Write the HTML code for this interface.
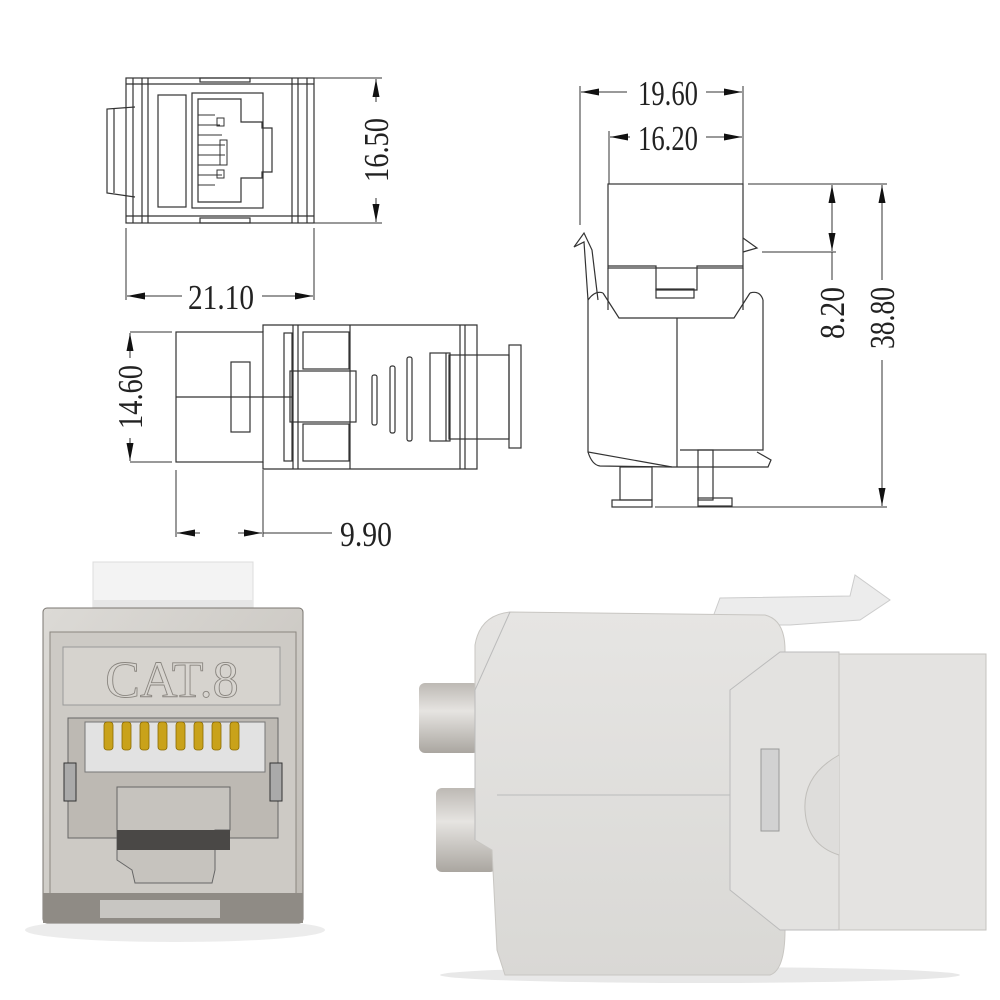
<!DOCTYPE html>
<html><head><meta charset="utf-8"><style>
html,body{margin:0;padding:0;background:#fff;}
svg{display:block;}
text{font-family:"Liberation Serif",serif;fill:#222;}
</style></head><body>
<svg width="1000" height="1000" viewBox="0 0 1000 1000" xmlns="http://www.w3.org/2000/svg">
<defs>
<marker id="ar" viewBox="0 0 10 10" refX="10" refY="5" markerWidth="18" markerHeight="7" markerUnits="userSpaceOnUse" orient="auto-start-reverse" preserveAspectRatio="none"><path d="M0,0 L10,5 L0,10 z" fill="#111"/></marker>
<linearGradient id="metal" x1="0" y1="0" x2="1" y2="1"><stop offset="0" stop-color="#dcdad6"/><stop offset="0.5" stop-color="#cfccc7"/><stop offset="1" stop-color="#bdb9b3"/></linearGradient>
<linearGradient id="side" x1="0" y1="0" x2="0" y2="1"><stop offset="0" stop-color="#e6e5e3"/><stop offset="1" stop-color="#d9d8d5"/></linearGradient>
<linearGradient id="cyl" x1="0" y1="0" x2="0" y2="1"><stop offset="0" stop-color="#bdb9b4"/><stop offset="0.4" stop-color="#e6e4e1"/><stop offset="1" stop-color="#aaa6a0"/></linearGradient>
</defs>
<g fill="none" stroke="#333" stroke-width="1.2">
<!-- TOP-LEFT FRONT VIEW -->
<rect x="126" y="78" width="188" height="145"/>
<line x1="133" y1="78" x2="133" y2="223"/><line x1="142" y1="78" x2="142" y2="223"/><line x1="148" y1="78" x2="148" y2="223"/>
<line x1="292" y1="78" x2="292" y2="223"/><line x1="298" y1="78" x2="298" y2="223"/><line x1="307" y1="78" x2="307" y2="223"/>
<line x1="126" y1="84" x2="314" y2="84"/><line x1="126" y1="216" x2="314" y2="216"/>
<rect x="200" y="78" width="50" height="4"/><rect x="200" y="218" width="50" height="5"/>
<path d="M135,107 L107,109 L107,193 L135,197"/><line x1="114" y1="109" x2="114" y2="193"/>
<rect x="158" y="95" width="28" height="112"/>
<rect x="192" y="93" width="71" height="115"/>
<path d="M198,99 L241,99 L241,122 L262,122 L262,128 L272,128 L272,172 L262,172 L262,178 L241,178 L241,202 L198,202 Z"/>
<g stroke-width="1"><line x1="198" y1="115" x2="215" y2="115"/><line x1="198" y1="125" x2="220" y2="125"/><line x1="198" y1="135" x2="222" y2="135"/><line x1="198" y1="145" x2="225" y2="145"/><line x1="198" y1="155" x2="225" y2="155"/><line x1="198" y1="165" x2="222" y2="165"/><line x1="198" y1="175" x2="222" y2="175"/><line x1="198" y1="185" x2="215" y2="185"/><rect x="217" y="118" width="7" height="8"/><rect x="220" y="140" width="7" height="25"/><rect x="217" y="170" width="7" height="8"/></g>
<!-- dims -->
<line x1="314" y1="78" x2="382" y2="78" stroke-width="1"/><line x1="314" y1="223" x2="382" y2="223" stroke-width="1"/>
<line x1="376" y1="102" x2="376" y2="79" marker-end="url(#ar)" stroke-width="1"/><line x1="376" y1="198" x2="376" y2="222" marker-end="url(#ar)" stroke-width="1"/>
<line x1="126" y1="228" x2="126" y2="300" stroke-width="1"/><line x1="314" y1="228" x2="314" y2="300" stroke-width="1"/>
<line x1="182" y1="296" x2="127" y2="296" marker-end="url(#ar)" stroke-width="1"/><line x1="262" y1="296" x2="313" y2="296" marker-end="url(#ar)" stroke-width="1"/>
<!-- SIDE VIEW -->
<rect x="176" y="332" width="87" height="130"/>
<line x1="176" y1="397" x2="293" y2="397"/>
<rect x="231" y="362" width="19" height="70"/>
<path d="M263,332 L263,325 L477,325 L477,469 L263,469 L263,462"/>
<line x1="293" y1="325" x2="293" y2="469"/><line x1="298" y1="325" x2="298" y2="469"/>
<rect x="284" y="333" width="8" height="128"/>
<rect x="303" y="332" width="46" height="37"/><rect x="290" y="371" width="66" height="51"/><rect x="303" y="424" width="46" height="37"/>
<line x1="350" y1="325" x2="350" y2="469"/>
<rect x="372" y="375" width="5" height="50" rx="2"/><rect x="390" y="366" width="5" height="67" rx="2"/><rect x="407" y="357" width="5" height="84" rx="2"/>
<line x1="460" y1="325" x2="460" y2="469"/><line x1="465" y1="325" x2="465" y2="469"/>
<rect x="430" y="353" width="20" height="88"/><line x1="446" y1="353" x2="446" y2="441"/>
<rect x="449" y="355" width="60" height="84"/>
<rect x="509" y="345" width="12" height="103"/>
<line x1="130" y1="332" x2="172" y2="332" stroke-width="1"/><line x1="130" y1="462" x2="172" y2="462" stroke-width="1"/>
<line x1="130" y1="358" x2="130" y2="333" marker-end="url(#ar)" stroke-width="1"/><line x1="130" y1="438" x2="130" y2="461" marker-end="url(#ar)" stroke-width="1"/>
<line x1="176" y1="470" x2="176" y2="537" stroke-width="1"/><line x1="263" y1="470" x2="263" y2="537" stroke-width="1"/>
<line x1="200" y1="533" x2="177" y2="533" marker-end="url(#ar)" stroke-width="1"/><line x1="238" y1="533" x2="262" y2="533" marker-end="url(#ar)" stroke-width="1"/><line x1="263" y1="533" x2="332" y2="533" stroke-width="1"/>
<!-- RIGHT VIEW -->
<rect x="608" y="184" width="135" height="84"/>
<path d="M608,268 L608,310 M743,268 L743,310"/>
<path d="M608,266 L656,266 L656,290 L697,290 L697,266 L743,266"/>
<rect x="656" y="289" width="38" height="9"/>
<path d="M603,293 L619,318 L734,318 L750,293"/>
<path d="M588,300 Q595,290 603,293 M750,293 Q760,290 763,300"/>
<path d="M588,300 L588,452 L672,467 L768,467 L771,460 L757,452"/>
<line x1="677" y1="318" x2="677" y2="467"/>
<path d="M763,300 L763,450 L680,450"/>
<path d="M588,452 Q592,465 600,466 L672,467"/>
<path d="M588,300 L584,242 L574,247 L584,233 L592,250 L598,300"/>
<path d="M743,238 L757,248 L743,252"/>
<rect x="620" y="467" width="32" height="33"/><rect x="612" y="500" width="40" height="7"/>
<rect x="698" y="450" width="15" height="50"/><rect x="698" y="498" width="34" height="8"/>
<line x1="580" y1="86" x2="580" y2="225" stroke-width="1"/><line x1="743" y1="86" x2="743" y2="184" stroke-width="1"/><line x1="609" y1="131" x2="609" y2="184" stroke-width="1"/>
<line x1="627" y1="92" x2="581" y2="92" marker-end="url(#ar)" stroke-width="1"/><line x1="706" y1="92" x2="742" y2="92" marker-end="url(#ar)" stroke-width="1"/>
<line x1="630" y1="137" x2="610" y2="137" marker-end="url(#ar)" stroke-width="1"/><line x1="706" y1="137" x2="742" y2="137" marker-end="url(#ar)" stroke-width="1"/>
<line x1="748" y1="184" x2="887" y2="184" stroke-width="1"/><line x1="762" y1="252" x2="836" y2="252" stroke-width="1"/><line x1="655" y1="507" x2="887" y2="507" stroke-width="1"/>
<line x1="832" y1="230" x2="832" y2="185" marker-end="url(#ar)" stroke-width="1"/><line x1="832" y1="205" x2="832" y2="251" marker-end="url(#ar)" stroke-width="1"/><line x1="832" y1="252" x2="832" y2="280" stroke-width="1"/>
<line x1="882" y1="280" x2="882" y2="185" marker-end="url(#ar)" stroke-width="1"/><line x1="882" y1="360" x2="882" y2="506" marker-end="url(#ar)" stroke-width="1"/>
</g>
<!-- labels -->
<text x="188" y="309" font-size="35" textLength="66" lengthAdjust="spacingAndGlyphs">21.10</text>
<text transform="translate(388,150) rotate(-90)" font-size="35" text-anchor="middle" textLength="64" lengthAdjust="spacingAndGlyphs">16.50</text>
<text transform="translate(142,397) rotate(-90)" font-size="35" text-anchor="middle" textLength="64" lengthAdjust="spacingAndGlyphs">14.60</text>
<text x="340" y="546" font-size="35" textLength="52" lengthAdjust="spacingAndGlyphs">9.90</text>
<text x="638" y="105" font-size="35" textLength="60" lengthAdjust="spacingAndGlyphs">19.60</text>
<text x="638" y="150" font-size="35" textLength="60" lengthAdjust="spacingAndGlyphs">16.20</text>
<text transform="translate(844,313) rotate(-90)" font-size="35" text-anchor="middle" textLength="52" lengthAdjust="spacingAndGlyphs">8.20</text>
<text transform="translate(894,318) rotate(-90)" font-size="35" text-anchor="middle" textLength="62" lengthAdjust="spacingAndGlyphs">38.80</text>

<!-- FRONT PHOTO -->
<ellipse cx="175" cy="930" rx="150" ry="12" fill="#ececec"/>
<rect x="93" y="562" width="160" height="60" fill="#f3f3f3" stroke="#ddd"/>
<rect x="93" y="600" width="160" height="22" fill="#e6e6e6"/>
<rect x="43" y="608" width="260" height="315" rx="4" fill="url(#metal)" stroke="#7a7670"/>
<rect x="50" y="632" width="246" height="275" fill="#cdcac5" stroke="#8a867f"/>
<rect x="63" y="647" width="217" height="58" fill="#d6d3ce" stroke="#999"/>
<text x="172" y="697" font-family="Liberation Sans,sans-serif" font-size="52" text-anchor="middle" style="fill:#d8d5d0" stroke="#8a8680" stroke-width="0.9">CAT.8</text>
<rect x="68" y="718" width="210" height="120" fill="#bdb9b3" stroke="#666"/>
<rect x="85" y="722" width="180" height="50" fill="#e2e2e2" stroke="#777"/>
<g fill="#c9a21a" stroke="#8a6a00" stroke-width="0.8">
<rect x="104" y="722" width="9" height="28" rx="3"/><rect x="122" y="722" width="9" height="28" rx="3"/><rect x="140" y="722" width="9" height="28" rx="3"/><rect x="158" y="722" width="9" height="28" rx="3"/><rect x="176" y="722" width="9" height="28" rx="3"/><rect x="194" y="722" width="9" height="28" rx="3"/><rect x="212" y="722" width="9" height="28" rx="3"/><rect x="230" y="722" width="9" height="28" rx="3"/>
</g>
<rect x="64" y="763" width="12" height="38" fill="#aaa" stroke="#333"/><rect x="270" y="763" width="12" height="38" fill="#aaa" stroke="#333"/>
<path d="M117,787 L230,787 L230,830 L215,830 L215,870 L212,883 L135,883 L132,870 L117,860 Z" fill="#c6c3be" stroke="#666"/>
<rect x="117" y="830" width="113" height="20" fill="#4a4846"/>
<rect x="43" y="893" width="260" height="30" fill="#8f8b85"/>
<rect x="100" y="900" width="120" height="18" fill="#c8c6c2"/>
<!-- SIDE PHOTO -->
<ellipse cx="700" cy="975" rx="260" ry="8" fill="#e8e8e8"/>
<path d="M710,625 L720,598 L850,596 L855,575 L890,600 L860,620 L790,625 Z" fill="#ececec" stroke="#ccc"/>
<rect x="419" y="683" width="60" height="70" rx="6" fill="url(#cyl)"/>
<rect x="436" y="788" width="60" height="84" rx="6" fill="url(#cyl)"/>
<path d="M475,645 Q480,615 510,612 L765,615 Q785,620 785,650 L785,930 Q785,970 770,975 L505,975 L497,950 L492,850 L475,840 Z" fill="url(#side)" stroke="#c8c6c2"/>
<path d="M510,612 L475,690 L475,840" fill="none" stroke="#bbb"/>
<line x1="497" y1="795" x2="730" y2="795" stroke="#bbb"/>
<path d="M730,690 L780,652 L839,652 L839,930 L780,930 L730,890 Z" fill="#e3e2e0" stroke="#bbb"/>
<rect x="839" y="654" width="147" height="276" fill="#e4e3e1" stroke="#c5c3bf"/>
<path d="M839,755 Q803,775 805,810 Q807,845 839,855" fill="#dedddb" stroke="#c0beba"/>
<rect x="761" y="749" width="18" height="82" fill="#d2d2d2" stroke="#999"/>
</svg>
</body></html>
